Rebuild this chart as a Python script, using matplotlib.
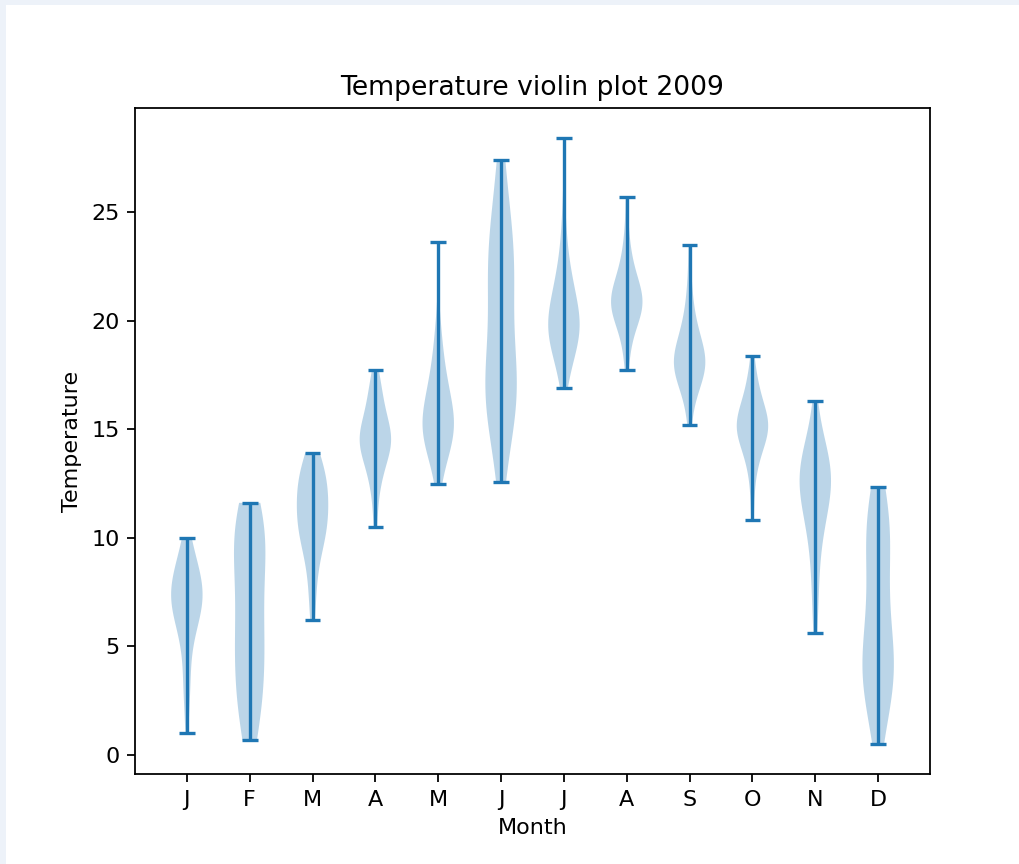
import matplotlib
matplotlib.use('Agg')
import matplotlib.pyplot as plt
from matplotlib.patches import Rectangle

# Month labels
meses = ['J', 'F', 'M', 'A', 'M', 'J', 'J', 'A', 'S', 'O', 'N', 'D']

# Daily temperatures per month
jan = [1.0, 2.5, 3.0, 3.6, 4.4, 5.0, 5.5, 5.9, 6.0, 6.2, 6.4, 6.6, 6.8, 6.9, 7.0, 7.1,
       7.2, 7.4, 7.5, 7.6, 7.7, 7.8, 7.9, 8.1, 8.3, 8.5, 8.7, 8.9, 9.2, 9.5, 9.96]
feb = [0.65, 1.2, 1.7, 2.2, 2.7, 3.1, 3.5, 3.9, 4.3, 4.7, 5.1, 5.5, 5.9, 6.3, 6.8, 7.3,
       7.8, 8.3, 8.8, 9.2, 9.5, 9.8, 10.1, 10.4, 10.7, 11.0, 11.3, 11.6]
mar = [6.2, 7.0, 7.8, 8.4, 8.9, 9.3, 9.6, 9.9, 10.0, 10.1, 10.3, 10.5, 10.7, 10.9, 11.0, 11.1,
       11.3, 11.5, 11.7, 11.9, 12.0, 12.1, 12.3, 12.5, 12.7, 12.9, 13.0, 13.2, 13.4, 13.6, 13.9]
apr = [10.5, 11.5, 12.2, 12.7, 13.0, 13.1, 13.4, 13.7, 13.9, 14.0, 14.1, 14.2, 14.3, 14.4, 14.5,
       14.6, 14.7, 14.8, 14.9, 15.0, 15.2, 15.4, 15.6, 15.8, 16.0, 16.3, 16.6, 16.9, 17.2, 17.7]
may = [12.45, 13.2, 13.7, 13.9, 14.1, 14.3, 14.4, 14.6, 14.7, 14.9, 15.0, 15.1, 15.2, 15.3, 15.4,
       15.5, 15.6, 15.8, 16.0, 16.2, 16.4, 16.7, 16.9, 17.0, 17.3, 17.7, 18.1, 18.6, 19.2, 20.0, 23.6]
jun = [12.55, 13.8, 14.6, 15.2, 15.7, 16.1, 16.3, 16.5, 16.8, 17.0, 17.1, 17.4, 17.8, 18.3, 18.9,
       19.5, 20.1, 20.7, 21.3, 21.8, 22.2, 22.5, 22.8, 23.1, 23.5, 24.0, 24.6, 25.3, 26.2, 27.4]
jul = [16.9, 17.6, 18.1, 18.3, 18.5, 18.8, 19.0, 19.1, 19.3, 19.4, 19.5, 19.6, 19.7, 19.8, 19.9,
       20.0, 20.1, 20.3, 20.5, 20.6, 20.8, 21.1, 21.3, 21.5, 21.9, 22.0, 22.4, 23.0, 23.8, 25.0, 28.4]
aug = [17.7, 18.5, 19.0, 19.4, 19.7, 19.9, 20.0, 20.2, 20.3, 20.4, 20.5, 20.6, 20.7, 20.8, 20.9,
       21.0, 21.0, 21.1, 21.2, 21.3, 21.4, 21.6, 21.8, 22.0, 22.1, 22.3, 22.6, 23.0, 23.5, 24.2, 25.7]
sep = [15.2, 16.0, 16.5, 16.9, 17.0, 17.2, 17.4, 17.5, 17.6, 17.7, 17.8, 17.9, 18.0, 18.1, 18.2,
       18.3, 18.4, 18.5, 18.6, 18.8, 18.9, 19.0, 19.3, 19.6, 19.8, 20.0, 20.5, 21.1, 21.9, 23.5]
octo = [10.8, 12.0, 12.8, 13.4, 13.6, 13.8, 14.1, 14.3, 14.4, 14.6, 14.7, 14.8, 14.9, 15.0, 15.0,
        15.1, 15.2, 15.3, 15.4, 15.5, 15.6, 15.7, 15.9, 16.0, 16.1, 16.4, 16.7, 16.9, 17.1, 17.6, 18.35]
nov = [5.6, 6.8, 7.7, 8.5, 9.2, 9.8, 10.3, 10.7, 10.9, 11.1, 11.4, 11.7, 11.9, 12.0, 12.2,
       12.4, 12.5, 12.6, 12.8, 13.0, 13.1, 13.2, 13.4, 13.6, 13.9, 14.0, 14.2, 14.6, 15.1, 16.3]
dec = [0.5, 1.3, 1.9, 2.4, 2.7, 3.0, 3.4, 3.6, 3.8, 4.0, 4.2, 4.4, 4.7, 5.0, 5.4, 5.8,
       6.3, 6.8, 7.3, 7.8, 8.3, 8.8, 9.3, 9.8, 10.0, 10.3, 10.8, 11.0, 11.3, 11.8, 12.35]

dados = [jan, feb, mar, apr, may, jun, jul, aug, sep, octo, nov, dec]
posicoes = list(range(1, len(meses) + 1))

fig = plt.figure(figsize=(10.2 / 1.6, 8.64 / 1.6), dpi=160)

# Light frame of the screenshot (top and left strips)
fig.patches.append(Rectangle((0, 1 - 5 / 864), 1, 5 / 864, transform=fig.transFigure,
                             facecolor='#edf2f9', edgecolor='none'))
fig.patches.append(Rectangle((0, 0), 6 / 1020, 1, transform=fig.transFigure,
                             facecolor='#edf2f9', edgecolor='none'))

ax = fig.add_axes([135 / 1020, 90 / 864, 795 / 1020, 666 / 864])
ax.violinplot(dados, positions=posicoes)

ax.set_xticks(posicoes)
ax.set_xticklabels(meses)
ax.set_xlabel('Month')
ax.set_ylabel('Temperature')
ax.set_title('Temperature violin plot 2009')

fig.savefig('out.png', dpi=160)
plt.close(fig)
